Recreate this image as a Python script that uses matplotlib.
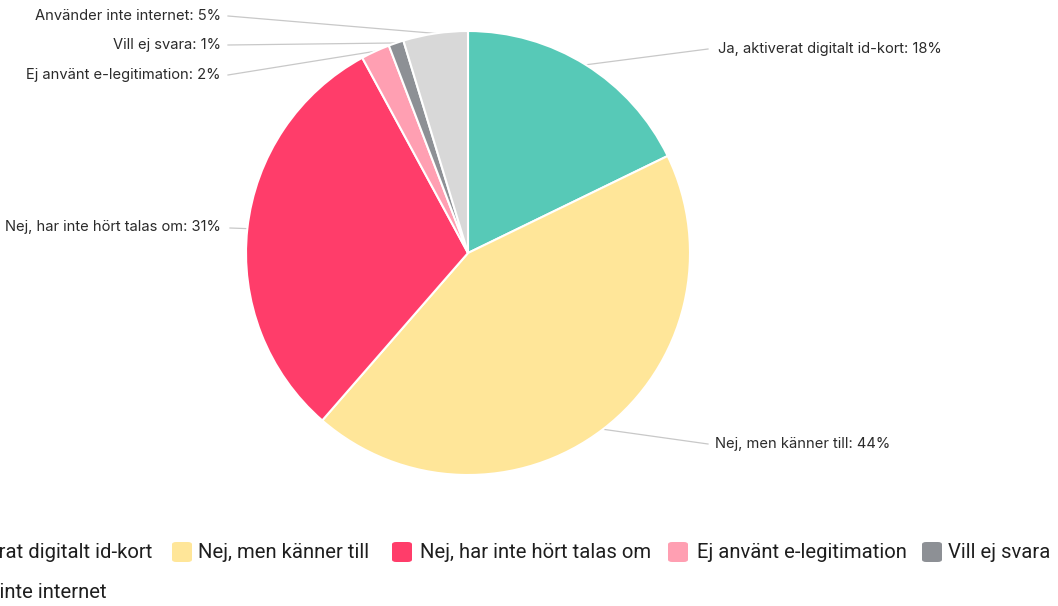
import numpy as np
import matplotlib
matplotlib.use("Agg")
import matplotlib.pyplot as plt
from matplotlib.patches import FancyBboxPatch

labels = ["Ja, aktiverat digitalt id-kort", "Nej, men känner till", "Nej, har inte hört talas om",
          "Ej använt e-legitimation", "Vill ej svara", "Använder inte internet"]
values = [17.8, 43.6, 30.7, 2.1, 1.1, 4.7]
colors = ["#57c9b7", "#ffe699", "#ff3d6a", "#ff9fb2", "#8d9095", "#d8d8d8"]

W, H = 1058, 606
CX, CY, R = 468, 253, 222

def px(x, y):
    # pixel position -> data coords (pie radius = 1)
    return (x - CX) / R, (CY - y) / R

fig = plt.figure(figsize=(W / 100, H / 100), dpi=100)
ax = fig.add_axes([0, 0, 1, 1])
wedges, _ = ax.pie(values, colors=colors, startangle=90, counterclock=False,
                   wedgeprops=dict(edgecolor="white", linewidth=1.5))
ax.set_xlim((0 - CX) / R, (W - CX) / R)
ax.set_ylim((CY - H) / R, CY / R)
ax.axis("off")

# label text positions (pixels): x, y, alignment
label_pos = [(718, 49, "left"), (715, 444, "left"), (221, 227, "right"),
             (221, 75, "right"), (221, 45, "right"), (221, 16, "right")]
line_end = [(708, 49), (708, 444), (230, 228), (228, 75), (228, 45), (228, 16)]

for w, lab, v, (tx, ty, ha), (lx, ly) in zip(wedges, labels, values, label_pos, line_end):
    mid = np.deg2rad((w.theta1 + w.theta2) / 2)
    ex, ey = np.cos(mid), np.sin(mid)
    x2, y2 = px(lx, ly)
    ax.plot([ex, x2], [ey, y2], color="#c8c8c8", lw=0.9, zorder=0)
    x3, y3 = px(tx, ty)
    ax.text(x3, y3, f"{lab}: {round(v)}%", ha=ha, va="center", fontsize=10.6,
            family="Inter", color="#2b2b2b")

# legend, laid out by hand (the original is cropped on the left)
leg_sq = [(-106, 552), (172, 552), (392, 552), (668, 552), (922, 552), (-106, 593)]
leg_txt = [(152, "right"), (198, "left"), (420, "left"), (697, "left"), (948, "left"), (107, "right")]
for i, ((sx, sy), (tx, ha)) in enumerate(zip(leg_sq, leg_txt)):
    box = FancyBboxPatch((sx / W, 1 - (sy + 10) / H), 20 / W, 20 / H,
                         boxstyle="round,pad=0,rounding_size=0.004",
                         transform=fig.transFigure, facecolor=colors[i], edgecolor="none")
    fig.patches.append(box)
    fig.text(tx / W, 1 - sy / H, labels[i], ha=ha, va="center", fontsize=14.6,
             family="Roboto", color="#1e1e1e")

fig.savefig("out.png", dpi=100)
